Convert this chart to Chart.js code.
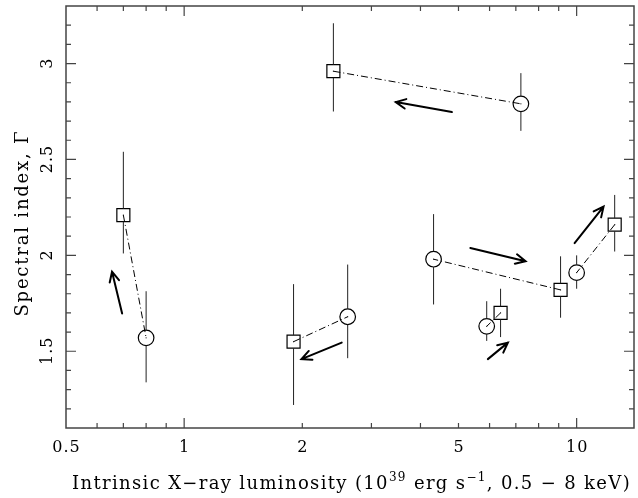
<!DOCTYPE html>
<html>
<head>
<meta charset="utf-8">
<script src="https://cdn.jsdelivr.net/npm/chart.js@4.4.0/dist/chart.umd.min.js"></script>
<style>
  body { margin: 0; background: #fff; }
  #wrap { width: 638px; height: 498px; position: relative; }
</style>
</head>
<body>
<div id="wrap"><canvas id="chart"></canvas></div>
<script>
// squares and circles: two observations of the same source share an index
const sqX  = [0.70, 1.90, 2.40, 9.10, 12.5, 6.40];
const sqY  = [2.21, 1.55, 2.96, 1.82, 2.16, 1.70];
const sqLo = [2.01, 1.22, 2.75, 1.675, 2.02, 1.574];
const sqHi = [2.54, 1.85, 3.21, 1.995, 2.315, 1.826];

const ciX  = [0.80, 2.61, 7.21, 4.32, 10.0, 5.90];
const ciY  = [1.57, 1.68, 2.79, 1.98, 1.91, 1.63];
const ciLo = [1.338, 1.464, 2.649, 1.744, 1.826, 1.554];
const ciHi = [1.813, 1.952, 2.95, 2.215, 2.0, 1.761];

// arrows (start -> tip)
const arrX0 = [0.695, 2.52, 4.81, 5.36, 9.88, 5.94];
const arrY0 = [1.697, 1.545, 2.747, 2.038, 2.064, 1.459];
const arrX1 = [0.655, 1.99, 3.46, 7.41, 11.71, 6.68];
const arrY1 = [1.915, 1.459, 2.799, 1.969, 2.254, 1.545];

const xTickLabels = [0.5, 1, 2, 5, 10];
const xMajorTicks = [1, 10];
const xMinorTicks = [0.6, 0.7, 0.8, 0.9, 2, 3, 4, 5, 6, 7, 8, 9];
const yTickLabels = [1.5, 2, 2.5, 3];

const FONT = '"DejaVu Serif", serif';
const SQ_R = 9.2, CI_R = 7.8;

const datasets = [];
for (let i = 0; i < sqX.length; i++) {
  datasets.push({
    type: 'line',
    data: [{x: sqX[i], y: sqY[i]}, {x: ciX[i], y: ciY[i]}],
    borderColor: '#000',
    borderWidth: 1,
    borderDash: [7, 3, 1, 3],
    pointRadius: 0,
    fill: false
  });
}
datasets.push({
  data: sqX.map((x, i) => ({x: x, y: sqY[i]})),
  pointStyle: 'rect',
  pointRadius: SQ_R,
  borderColor: '#000',
  borderWidth: 1.2,
  backgroundColor: 'rgba(0,0,0,0)'
});
datasets.push({
  data: ciX.map((x, i) => ({x: x, y: ciY[i]})),
  pointStyle: 'circle',
  pointRadius: CI_R,
  borderColor: '#000',
  borderWidth: 1.2,
  backgroundColor: 'rgba(0,0,0,0)'
});

function errBars(ctx, xs, ys, X, Y, lo, hi, gap) {
  for (let i = 0; i < X.length; i++) {
    const px = xs.getPixelForValue(X[i]);
    const py = ys.getPixelForValue(Y[i]);
    ctx.beginPath();
    ctx.moveTo(px, ys.getPixelForValue(hi[i]));
    ctx.lineTo(px, py - gap);
    ctx.moveTo(px, py + gap);
    ctx.lineTo(px, ys.getPixelForValue(lo[i]));
    ctx.stroke();
    ctx.fillRect(px - 0.5, py - 0.5, 1, 1);
  }
}

// draw text with a fixed total width (the original font is wider than DejaVu)
function fitSpacing(ctx, text, width) {
  ctx.letterSpacing = '0px';
  const w = ctx.measureText(text).width;
  return Math.max(0, (width - w) / text.length);
}

const decor = {
  id: 'decor',
  afterDatasetsDraw(chart) {
    const ctx = chart.ctx;
    const xs = chart.scales.x, ys = chart.scales.y;
    ctx.save();
    // error bars
    ctx.strokeStyle = '#222';
    ctx.fillStyle = '#000';
    ctx.lineWidth = 1;
    errBars(ctx, xs, ys, sqX, sqY, sqLo, sqHi, SQ_R * Math.SQRT1_2);
    errBars(ctx, xs, ys, ciX, ciY, ciLo, ciHi, CI_R);

    // arrows
    ctx.strokeStyle = '#000';
    ctx.lineWidth = 2;
    ctx.lineCap = 'round';
    for (let i = 0; i < arrX0.length; i++) {
      const x0 = xs.getPixelForValue(arrX0[i]), y0 = ys.getPixelForValue(arrY0[i]);
      const x1 = xs.getPixelForValue(arrX1[i]), y1 = ys.getPixelForValue(arrY1[i]);
      const ang = Math.atan2(y1 - y0, x1 - x0);
      const h = 11, w = 0.45;
      ctx.beginPath();
      ctx.moveTo(x0, y0);
      ctx.lineTo(x1, y1);
      ctx.moveTo(x1 - h * Math.cos(ang - w), y1 - h * Math.sin(ang - w));
      ctx.lineTo(x1, y1);
      ctx.lineTo(x1 - h * Math.cos(ang + w), y1 - h * Math.sin(ang + w));
      ctx.stroke();
    }
    ctx.restore();
  },
  afterDraw(chart) {
    const ctx = chart.ctx;
    const xs = chart.scales.x, ys = chart.scales.y;
    const a = chart.chartArea;
    ctx.save();
    ctx.strokeStyle = '#444';
    ctx.lineWidth = 1.5;
    ctx.strokeRect(a.left, a.top, a.right - a.left, a.bottom - a.top);

    ctx.lineWidth = 1.2;
    ctx.beginPath();
    const xt = (v, len) => {
      const p = xs.getPixelForValue(v);
      ctx.moveTo(p, a.bottom); ctx.lineTo(p, a.bottom - len);
      ctx.moveTo(p, a.top); ctx.lineTo(p, a.top + len);
    };
    xMinorTicks.forEach(v => xt(v, 5));
    xMajorTicks.forEach(v => xt(v, 10));
    for (let k = 12; k <= 32; k++) {
      const p = ys.getPixelForValue(k / 10);
      const len = (k % 5 === 0) ? 10 : 5;
      ctx.moveTo(a.left, p); ctx.lineTo(a.left + len, p);
      ctx.moveTo(a.right, p); ctx.lineTo(a.right - len, p);
    }
    ctx.stroke();

    // tick labels
    ctx.fillStyle = '#000';
    ctx.font = '16px ' + FONT;
    ctx.letterSpacing = '1px';
    ctx.textAlign = 'center';
    ctx.textBaseline = 'alphabetic';
    xTickLabels.forEach(v => {
      ctx.fillText(String(v), xs.getPixelForValue(v) + 0.5, a.bottom + 24);
    });
    yTickLabels.forEach(v => {
      ctx.save();
      ctx.translate(a.left - 14, ys.getPixelForValue(v));
      ctx.rotate(-Math.PI / 2);
      ctx.fillText(String(v), 0.5, 0);
      ctx.restore();
    });

    // y title
    const yTitle = 'Spectral index, \u0393';
    ctx.font = '18px ' + FONT;
    const ysp = fitSpacing(ctx, yTitle, 187);
    ctx.save();
    ctx.translate(28, 224);
    ctx.rotate(-Math.PI / 2);
    ctx.letterSpacing = ysp + 'px';
    ctx.fillText(yTitle, ysp / 2, 0);
    ctx.restore();

    // x title with superscripts
    const big = '18px ' + FONT, small = '12px ' + FONT;
    const parts = [
      ['Intrinsic X\u2212ray luminosity (10', big, 0],
      ['39', small, -8],
      [' erg s', big, 0],
      ['\u22121', small, -8],
      [', 0.5 \u2212 8 keV)', big, 0]
    ];
    ctx.letterSpacing = '0px';
    let raw = 0, n = 0;
    parts.forEach(p => { ctx.font = p[1]; raw += ctx.measureText(p[0]).width; n += p[0].length; });
    const sp = Math.max(0, (559 - raw) / n);
    ctx.letterSpacing = sp + 'px';
    let x = 72;
    ctx.textAlign = 'left';
    parts.forEach(p => {
      ctx.font = p[1];
      ctx.fillText(p[0], x, 489 + p[2]);
      x += ctx.measureText(p[0]).width;
    });
    ctx.restore();
  }
};

new Chart(document.getElementById('chart'), {
  type: 'scatter',
  data: { datasets: datasets },
  options: {
    responsive: true,
    maintainAspectRatio: false,
    animation: false,
    layout: { autoPadding: false, padding: { left: 66, right: 4, top: 6, bottom: 70 } },
    plugins: { legend: { display: false }, tooltip: { enabled: false } },
    scales: {
      x: { type: 'logarithmic', min: 0.5, max: 14, display: false },
      y: { type: 'linear', min: 1.1, max: 3.3, display: false }
    }
  },
  plugins: [decor]
});
</script>
</body>
</html>
